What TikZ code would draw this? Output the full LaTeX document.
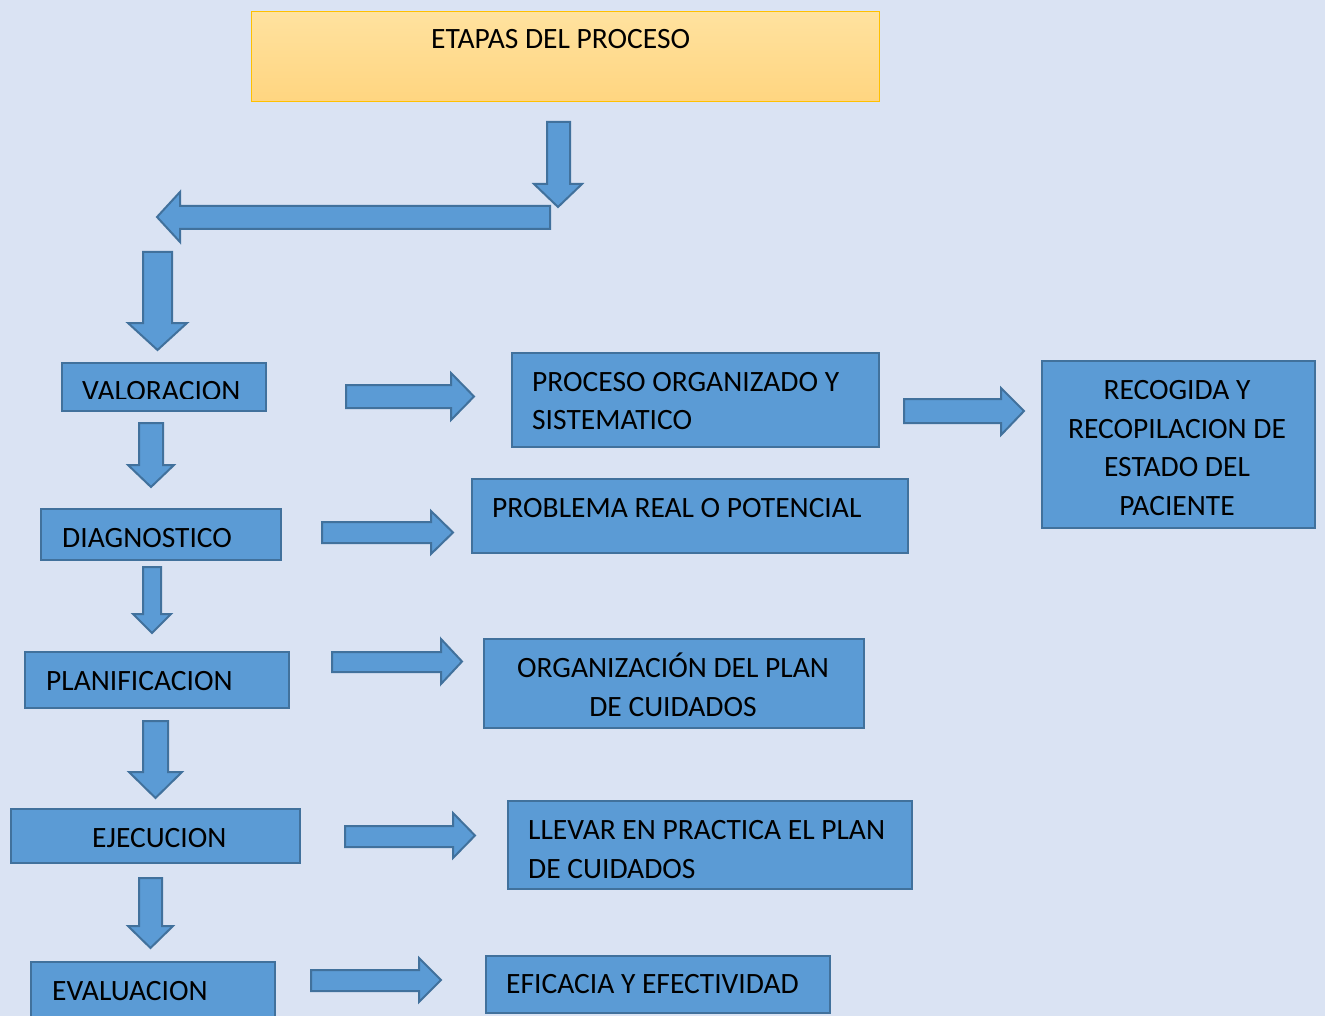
\documentclass[tikz,border=0pt]{standalone}
\usepackage{fontspec}
\setmainfont{Carlito}
\definecolor{bg}{HTML}{DAE3F3}
\definecolor{boxfill}{HTML}{5B9BD5}
\definecolor{boxline}{HTML}{41719C}
\definecolor{topA}{HTML}{FFE29F}
\definecolor{topB}{HTML}{FFD580}
\definecolor{topline}{HTML}{FFC000}
\tikzset{
  box/.style={rectangle, draw=boxline, fill=boxfill, line width=2pt, anchor=north west, inner sep=0pt},
  barrow/.style={draw=boxline, fill=boxfill, line width=2pt, line join=miter},
  txt/.style={inner sep=0pt, anchor=base west, text=black, font=\fontsize{29.5}{39}\selectfont},
  ctxt/.style={txt, anchor=base},
}
\begin{document}
\begin{tikzpicture}[x=1pt, y=-1pt]
\clip (0,0) rectangle (1325,1016);
\fill[bg] (0,0) rectangle (1325,1016);

% title box
\node[rectangle, draw=topline, line width=1.4pt, top color=topA, bottom color=topB, anchor=north west, inner sep=0pt, minimum width=628pt, minimum height=90pt] (top) at (251,11) {};
\node[txt] (toptxt) at (431,49) {ETAPAS DEL PROCESO};

% left column boxes
\node[box, minimum width=204pt, minimum height=48pt] (val) at (61,362) {};
\begin{scope}
\clip (61,362) rectangle (265,398.5);
\node[txt] (valtxt) at (82,400) {VALORACION};
\end{scope}
\node[box, minimum width=240pt, minimum height=51pt] (diag) at (40,508) {};
\node[txt] (diagtxt) at (62,547) {DIAGNOSTICO};
\node[box, minimum width=264pt, minimum height=56pt] (plan) at (24,651) {};
\node[txt] (plantxt) at (46,690) {PLANIFICACION};
\node[box, minimum width=289pt, minimum height=54pt] (eje) at (10,808) {};
\node[txt] (ejetxt) at (92,847) {EJECUCION};
\node[box, minimum width=244pt, minimum height=80pt] (eval) at (30,961) {};
\node[txt] (evaltxt) at (52,1000) {EVALUACION};

% right boxes
\node[box, minimum width=367pt, minimum height=94pt] (proc) at (511,352) {};
\node[txt] (proct1) at (532,391) {PROCESO ORGANIZADO Y};
\node[txt] (proct2) at (532,429) {SISTEMATICO};
\node[box, minimum width=436pt, minimum height=74pt] (prob) at (471,478) {};
\node[txt] (probtxt) at (492,517) {PROBLEMA REAL O POTENCIAL};
\node[box, minimum width=380pt, minimum height=89pt] (org) at (483,638) {};
\node[ctxt] (orgt1) at (673,677) {ORGANIZACIÓN DEL PLAN};
\node[ctxt] (orgt2) at (673,716) {DE CUIDADOS};
\node[box, minimum width=404pt, minimum height=88pt] (llev) at (507,800) {};
\node[txt] (llevt1) at (528,839) {LLEVAR EN PRACTICA EL PLAN};
\node[txt] (llevt2) at (528,878) {DE CUIDADOS};
\node[box, minimum width=344pt, minimum height=57pt] (efic) at (485,955) {};
\node[txt] (efictxt) at (506,993) {EFICACIA Y EFECTIVIDAD};
\node[box, minimum width=273pt, minimum height=167pt] (rec) at (1041,360) {};
\node[ctxt] (rect1) at (1177,399) {RECOGIDA Y};
\node[ctxt] (rect2) at (1177,438) {RECOPILACION DE};
\node[ctxt] (rect3) at (1177,476) {ESTADO DEL};
\node[ctxt] (rect4) at (1177,515) {PACIENTE};

% block arrows (down)
\draw[barrow] (547,122) -- (570,122) -- (570,184) -- (582,184) -- (558,207) -- (534,184) -- (547,184) -- cycle;
\draw[barrow] (550,206) -- (550,229) -- (180,229) -- (180,242) -- (157,217) -- (180,192) -- (180,206) -- cycle;
\draw[barrow] (143,252) -- (172,252) -- (172,323) -- (187,323) -- (157.5,350) -- (128,323) -- (143,323) -- cycle;
\draw[barrow] (139,423) -- (163,423) -- (163,465) -- (174,465) -- (151,487) -- (128,465) -- (139,465) -- cycle;
\draw[barrow] (143,567) -- (161,567) -- (161,614) -- (171,614) -- (152,633) -- (133,614) -- (143,614) -- cycle;
\draw[barrow] (143,721) -- (168,721) -- (168,772) -- (182,772) -- (155.5,798) -- (129,772) -- (143,772) -- cycle;
\draw[barrow] (139,878) -- (162,878) -- (162,926) -- (173,926) -- (150.5,948) -- (128,926) -- (139,926) -- cycle;

% block arrows (right)
\draw[barrow] (346,385) -- (451,385) -- (451,373) -- (474,396.5) -- (451,420) -- (451,408) -- (346,408) -- cycle;
\draw[barrow] (322,522) -- (431,522) -- (431,511) -- (453,532.5) -- (431,554) -- (431,543) -- (322,543) -- cycle;
\draw[barrow] (332,652) -- (441,652) -- (441,639) -- (462,661.5) -- (441,684) -- (441,672) -- (332,672) -- cycle;
\draw[barrow] (345,826) -- (453,826) -- (453,813) -- (475,835.5) -- (453,858) -- (453,847) -- (345,847) -- cycle;
\draw[barrow] (311,970) -- (419,970) -- (419,958) -- (441,980) -- (419,1002) -- (419,991) -- (311,991) -- cycle;
\draw[barrow] (904,399) -- (1001,399) -- (1001,388) -- (1024,411) -- (1001,435) -- (1001,423) -- (904,423) -- cycle;
\end{tikzpicture}
\end{document}
